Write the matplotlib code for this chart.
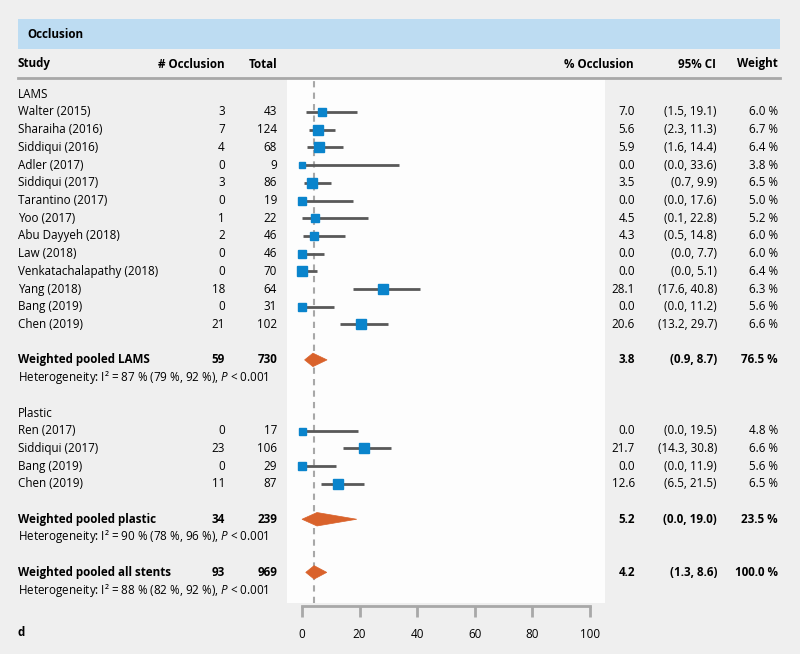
import matplotlib
matplotlib.use("Agg")
import matplotlib.pyplot as plt
import matplotlib.transforms as mtransforms
from matplotlib.patches import Rectangle, Polygon
from matplotlib.lines import Line2D

plt.rcParams['font.family'] = ['Open Sans', 'DejaVu Sans']
plt.rcParams['mathtext.fontset'] = 'custom'
plt.rcParams['mathtext.rm'] = 'Open Sans'
plt.rcParams['mathtext.it'] = 'Open Sans:italic'

# ---- data ----
lams_study = ["Walter (2015)", "Sharaiha (2016)", "Siddiqui (2016)", "Adler (2017)",
              "Siddiqui (2017)", "Tarantino (2017)", "Yoo (2017)", "Abu Dayyeh (2018)",
              "Law (2018)", "Venkatachalapathy (2018)", "Yang (2018)", "Bang (2019)",
              "Chen (2019)"]
lams_events = [3, 7, 4, 0, 3, 0, 1, 2, 0, 0, 18, 0, 21]
lams_total = [43, 124, 68, 9, 86, 19, 22, 46, 46, 70, 64, 31, 102]
lams_pct = [7.0, 5.6, 5.9, 0.0, 3.5, 0.0, 4.5, 4.3, 0.0, 0.0, 28.1, 0.0, 20.6]
lams_lo = [1.5, 2.3, 1.6, 0.0, 0.7, 0.0, 0.1, 0.5, 0.0, 0.0, 17.6, 0.0, 13.2]
lams_hi = [19.1, 11.3, 14.4, 33.6, 9.9, 17.6, 22.8, 14.8, 7.7, 5.1, 40.8, 11.2, 29.7]
lams_weight = [6.0, 6.7, 6.4, 3.8, 6.5, 5.0, 5.2, 6.0, 6.0, 6.4, 6.3, 5.6, 6.6]

plastic_study = ["Ren (2017)", "Siddiqui (2017)", "Bang (2019)", "Chen (2019)"]
plastic_events = [0, 23, 0, 11]
plastic_total = [17, 106, 29, 87]
plastic_pct = [0.0, 21.7, 0.0, 12.6]
plastic_lo = [0.0, 14.3, 0.0, 6.5]
plastic_hi = [19.5, 30.8, 11.9, 21.5]
plastic_weight = [4.8, 6.6, 5.6, 6.5]

pooled_label = ["Weighted pooled LAMS", "Weighted pooled plastic", "Weighted pooled all stents"]
pooled_events = [59, 34, 93]
pooled_total = [730, 239, 969]
pooled_pct = [3.8, 5.2, 4.2]
pooled_lo = [0.9, 0.0, 1.3]
pooled_hi = [8.7, 19.0, 8.6]
pooled_weight = [76.5, 23.5, 100.0]
het_i2 = ["87 % (79 %, 92 %)", "90 % (78 %, 96 %)", "88 % (82 %, 92 %)"]

xticks = [0, 20, 40, 60, 80, 100]

# ---- layout (rows) ----
lams_rows = list(range(1, 14))
plastic_rows = list(range(19, 23))
pooled_rows = [15, 24, 27]

BG = '#efefef'
BLUE = '#0a84cc'
ORANGE = '#d9622b'
LINE = '#595959'
fs = 8.4

W, H = 800, 654
fig = plt.figure(figsize=(8, 6.54), dpi=100, facecolor=BG)


def fx(px):
    return px / W


def fy(py):
    return 1 - py / H


# header band
fig.patches.append(Rectangle((fx(18), fy(49)), fx(762), 30 / H, transform=fig.transFigure,
                             facecolor='#bddcf2', edgecolor='none', zorder=0))
fig.text(fx(27), fy(34), "Occlusion", fontsize=fs, fontweight='bold', va='center')

# column headers
hy = fy(64)
fig.text(fx(18), hy, "Study", fontsize=fs, fontweight='bold', va='center')
fig.text(fx(225), hy, "# Occlusion", fontsize=fs, fontweight='bold', va='center', ha='right')
fig.text(fx(277), hy, "Total", fontsize=fs, fontweight='bold', va='center', ha='right')
fig.text(fx(634), hy, "% Occlusion", fontsize=fs, fontweight='bold', va='center', ha='right')
fig.text(fx(716), hy, "95% CI", fontsize=fs, fontweight='bold', va='center', ha='right')
fig.text(fx(778), hy, "Weight", fontsize=fs, fontweight='bold', va='center', ha='right')
fig.lines.append(Line2D([fx(18), fx(780)], [fy(78), fy(78)], transform=fig.transFigure,
                        color='#a8a8a8', lw=2))

# forest axes
ax = fig.add_axes([fx(287), fy(603), fx(318), 525 / H])
ax.set_facecolor('#fdfdfd')
ax.set_xlim(-15 / 2.88, 303 / 2.88)
ax.set_ylim(28.73, -0.92)
for s in ['top', 'right', 'left']:
    ax.spines[s].set_visible(False)
ax.spines['bottom'].set_bounds(0, 100)
ax.spines['bottom'].set_color('#a8a8a8')
ax.spines['bottom'].set_linewidth(2)
ax.spines['bottom'].set_position(('outward', 2))
ax.set_yticks([])
ax.set_xticks(xticks)
ax.set_xticklabels([str(t) for t in xticks])
ax.tick_params(axis='x', direction='out', length=8, width=2, color='#a8a8a8',
               labelsize=fs, pad=8)

ax.axvline(pooled_pct[2], color='#a8a8a8', ls=(0, (3, 2.5)), lw=1.5, zorder=1)

tr = mtransforms.blended_transform_factory(fig.transFigure, ax.transData)


def study_rows(rows, names, ev, tot, pct, lo, hi, wt):
    for r, n, e, t, p, l, h, w in zip(rows, names, ev, tot, pct, lo, hi, wt):
        ax.plot([l, h], [r, r], color=LINE, lw=2, solid_capstyle='butt', zorder=2)
        ax.plot([p], [r], marker='s', color=BLUE, markersize=w * 1.05, mec=BLUE, zorder=3)
        fig.text(fx(18), r, n, transform=tr, fontsize=fs, va='center')
        fig.text(fx(225), r, str(e), transform=tr, fontsize=fs, va='center', ha='right')
        fig.text(fx(277), r, str(t), transform=tr, fontsize=fs, va='center', ha='right')
        fig.text(fx(635), r, f"{p:.1f}", transform=tr, fontsize=fs, va='center', ha='right')
        fig.text(fx(717), r, f"({l:.1f}, {h:.1f})", transform=tr, fontsize=fs, va='center', ha='right')
        fig.text(fx(778), r, f"{w:.1f} %", transform=tr, fontsize=fs, va='center', ha='right')


fig.text(fx(18), 0, "LAMS", transform=tr, fontsize=fs, va='center')
study_rows(lams_rows, lams_study, lams_events, lams_total, lams_pct, lams_lo, lams_hi, lams_weight)
fig.text(fx(18), 18, "Plastic", transform=tr, fontsize=fs, va='center')
study_rows(plastic_rows, plastic_study, plastic_events, plastic_total, plastic_pct,
           plastic_lo, plastic_hi, plastic_weight)

dh = 0.38
for r, lab, e, t, p, l, h, w, i2 in zip(pooled_rows, pooled_label, pooled_events, pooled_total,
                                         pooled_pct, pooled_lo, pooled_hi, pooled_weight, het_i2):
    ax.add_patch(Polygon([(l, r), (p, r - dh), (h, r), (p, r + dh)], closed=True,
                         facecolor=ORANGE, edgecolor=ORANGE, lw=0.5, zorder=3))
    kw = dict(transform=tr, fontsize=fs, va='center', fontweight='bold')
    fig.text(fx(18), r, lab, **kw)
    fig.text(fx(225), r, str(e), ha='right', **kw)
    fig.text(fx(277), r, str(t), ha='right', **kw)
    fig.text(fx(635), r, f"{p:.1f}", ha='right', **kw)
    fig.text(fx(717), r, f"({l:.1f}, {h:.1f})", ha='right', **kw)
    fig.text(fx(778), r, f"{w:.1f} %", ha='right', **kw)
    fig.text(fx(18), r + 1, "Heterogeneity: I² = " + i2 + r", $\it{P}$ < 0.001",
             transform=tr, fontsize=fs, va='center')

fig.text(fx(18), fy(633), "d", fontsize=fs, fontweight='bold', va='center')

fig.savefig("out.png", dpi=100, facecolor=BG)
